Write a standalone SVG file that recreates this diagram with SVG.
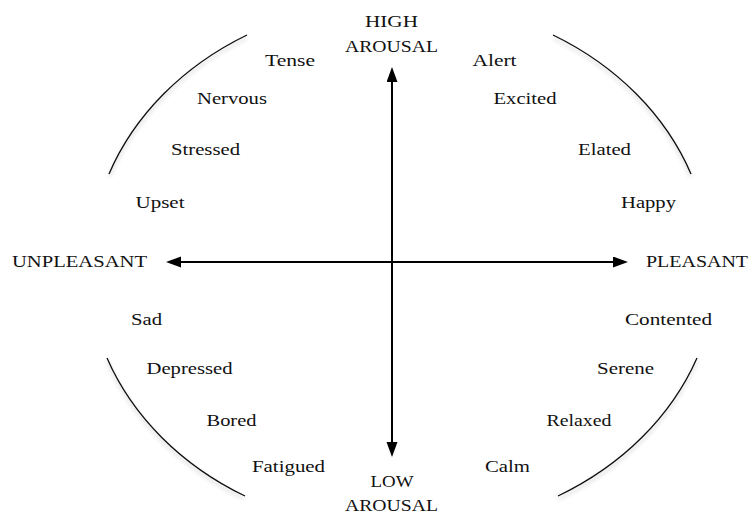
<svg xmlns="http://www.w3.org/2000/svg" width="750" height="517" viewBox="0 0 750 517">
<style>
  .lbl { font-family: "Liberation Serif", "Times New Roman", serif; font-size: 16px; fill: #111; text-anchor: middle; }
  .axl { font-family: "Liberation Serif", "Times New Roman", serif; font-size: 17px; fill: #111; text-anchor: middle; }
  .arc { fill: none; stroke: #111; stroke-width: 1.3; filter: url(#sh); }
  .axis { stroke: #000; stroke-width: 2; fill: none; marker-start: url(#ah); marker-end: url(#ah); }
</style>
<defs>
  <marker id="ah" markerUnits="userSpaceOnUse" markerWidth="16" markerHeight="12" refX="12" refY="5.5" orient="auto-start-reverse">
    <path d="M0,0 L15,5.5 L0,11 Z" fill="#000"/>
  </marker>
  <filter id="sh" x="-10%" y="-10%" width="120%" height="130%">
    <feGaussianBlur in="SourceAlpha" stdDeviation="2"/>
    <feOffset dx="0" dy="3" result="b"/>
    <feComponentTransfer><feFuncA type="linear" slope="0.25"/></feComponentTransfer>
    <feMerge><feMergeNode/><feMergeNode in="SourceGraphic"/></feMerge>
  </filter>
</defs>
<rect width="750" height="517" fill="#fff"/>

<g id="arcs">
  <path class="arc" d="M247,35 A310,265 0 0 0 109,174"/>
  <path class="arc" d="M553,35 A310,265 0 0 1 691,174"/>
  <path class="arc" d="M107,358 A310,265 0 0 0 245,496"/>
  <path class="arc" d="M697,358 A310,265 0 0 1 558,496"/>
</g>

<g id="connectors">
  <line class="axis" x1="392" y1="70" x2="392" y2="454"/>
  <line class="axis" x1="169" y1="262" x2="625" y2="262"/>
</g>

<g id="high-arousal">
  <text class="axl" x="391.5" y="27" textLength="53" lengthAdjust="spacingAndGlyphs">HIGH</text>
  <text class="axl" x="391.5" y="52" textLength="93" lengthAdjust="spacingAndGlyphs">AROUSAL</text>
</g>
<g id="low-arousal">
  <text class="axl" x="392" y="487" textLength="43" lengthAdjust="spacingAndGlyphs">LOW</text>
  <text class="axl" x="391.5" y="511" textLength="93" lengthAdjust="spacingAndGlyphs">AROUSAL</text>
</g>
<g id="unpleasant">
  <text class="axl" x="79.5" y="267" textLength="135" lengthAdjust="spacingAndGlyphs">UNPLEASANT</text>
</g>
<g id="pleasant">
  <text class="axl" x="697" y="267" textLength="102" lengthAdjust="spacingAndGlyphs">PLEASANT</text>
</g>

<g id="tense"><text class="lbl" x="290" y="66" textLength="50" lengthAdjust="spacingAndGlyphs">Tense</text></g>
<g id="nervous"><text class="lbl" x="232" y="104" textLength="70" lengthAdjust="spacingAndGlyphs">Nervous</text></g>
<g id="stressed"><text class="lbl" x="205.5" y="155" textLength="69" lengthAdjust="spacingAndGlyphs">Stressed</text></g>
<g id="upset"><text class="lbl" x="160" y="208" textLength="49" lengthAdjust="spacingAndGlyphs">Upset</text></g>

<g id="alert"><text class="lbl" x="494.5" y="66" textLength="44" lengthAdjust="spacingAndGlyphs">Alert</text></g>
<g id="excited"><text class="lbl" x="525" y="104" textLength="63" lengthAdjust="spacingAndGlyphs">Excited</text></g>
<g id="elated"><text class="lbl" x="604.5" y="155" textLength="53" lengthAdjust="spacingAndGlyphs">Elated</text></g>
<g id="happy"><text class="lbl" x="648.5" y="208" textLength="55" lengthAdjust="spacingAndGlyphs">Happy</text></g>

<g id="sad"><text class="lbl" x="146.5" y="325" textLength="31" lengthAdjust="spacingAndGlyphs">Sad</text></g>
<g id="depressed"><text class="lbl" x="189.5" y="374" textLength="86" lengthAdjust="spacingAndGlyphs">Depressed</text></g>
<g id="bored"><text class="lbl" x="231.5" y="426" textLength="50" lengthAdjust="spacingAndGlyphs">Bored</text></g>
<g id="fatigued"><text class="lbl" x="288.5" y="472" textLength="73" lengthAdjust="spacingAndGlyphs">Fatigued</text></g>

<g id="contented"><text class="lbl" x="668.5" y="325" textLength="87" lengthAdjust="spacingAndGlyphs">Contented</text></g>
<g id="serene"><text class="lbl" x="625.5" y="374" textLength="57" lengthAdjust="spacingAndGlyphs">Serene</text></g>
<g id="relaxed"><text class="lbl" x="579" y="426" textLength="65" lengthAdjust="spacingAndGlyphs">Relaxed</text></g>
<g id="calm"><text class="lbl" x="507.5" y="472" textLength="45" lengthAdjust="spacingAndGlyphs">Calm</text></g>
</svg>
